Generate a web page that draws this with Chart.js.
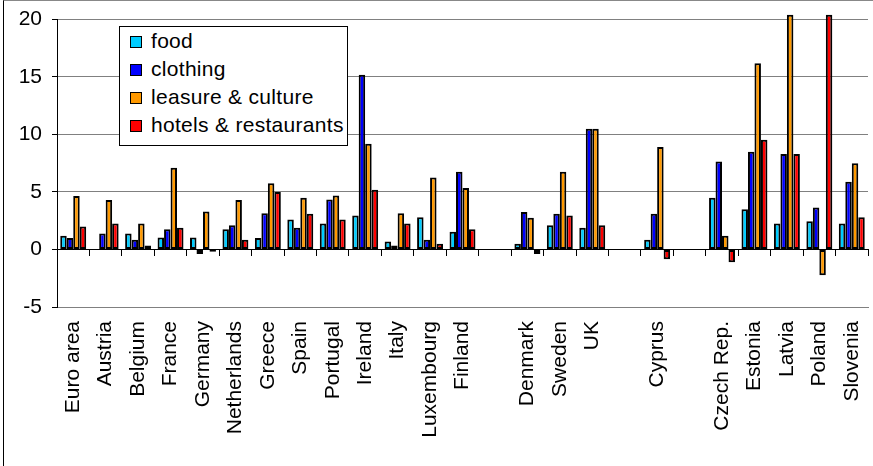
<!DOCTYPE html>
<html>
<head>
<meta charset="utf-8">
<script src="https://cdn.jsdelivr.net/npm/chart.js@4.4.1/dist/chart.umd.min.js"></script>
<style>
  body { margin: 0; background: #fff; font-family: "Liberation Sans", Arial, sans-serif; }
  #wrap { position: relative; width: 873px; height: 466px; overflow: hidden; }
  #frame { position: absolute; left: 3px; top: 0; width: 900px; height: 500px;
           border-left: 1px solid #000; border-top: 1px solid #888; pointer-events: none; }
  #legend { position: absolute; left: 119px; top: 26px; width: 227px; height: 118px;
            background: #fff; border: 1px solid #000; }
  .item { height: 28px; line-height: 28px; font-size: 21px; letter-spacing: 0.3px;
          color: #000; white-space: nowrap; }
  .sw { display: inline-block; width: 10px; height: 10px; border: 1px solid #000;
        margin: 0 9px 0 10px; vertical-align: 0px; }
</style>
</head>
<body>
<div id="wrap">
  <canvas id="chart" width="873" height="466"></canvas>
  <div id="legend"></div>
  <div id="frame"></div>
</div>
<script>
// categorias (as vazias são os espaços entre os grupos de países)
const countries = ["Euro area", "Austria", "Belgium", "France", "Germany", "Netherlands", "Greece",
  "Spain", "Portugal", "Ireland", "Italy", "Luxembourg", "Finland", "", "Denmark", "Sweden", "UK",
  "", "Cyprus", "", "Czech Rep.", "Estonia", "Latvia", "Poland", "Slovenia"];

const food = [1.2, null, 1.4, 1.05, 1.05, 1.75, 1.0, 2.6, 2.25, 2.95, 0.7, 2.8, 1.55, null,
  0.5, 2.1, 1.9, null, 0.85, null, 4.5, 3.5, 2.25, 2.45, 2.25];
const clothing = [1.0, 1.4, 0.85, 1.75, -0.4, 2.1, 3.15, 1.9, 4.35, 15.2, 0.35, 0.85, 6.75, null,
  3.25, 3.1, 10.5, null, 3.1, null, 7.65, 8.5, 8.3, 3.65, 5.9];
const leisure = [4.65, 4.3, 2.25, 7.1, 3.3, 4.3, 5.75, 4.5, 4.7, 9.2, 3.15, 6.25, 5.35, null,
  2.75, 6.75, 10.5, null, 8.9, null, 1.2, 16.2, 20.4, -2.25, 7.5];
const hotels = [2.0, 2.25, 0.35, 1.9, -0.2, 0.85, 5.0, 3.1, 2.6, 5.2, 2.25, 0.5, 1.75, null,
  -0.4, 2.95, 2.1, null, -0.85, null, -1.1, 9.55, 8.3, 20.4, 2.8];

const yTicks = [-5, 0, 5, 10, 15, 20];

const seriesNames = ["food", "clothing", "leasure & culture", "hotels & restaurants"];
const seriesColors = ["#00CCFF", "#0000FF", "#FF9900", "#FF0000"];
const seriesData = [food, clothing, leisure, hotels];

const FONT = "'Liberation Sans', Arial, sans-serif";

document.addEventListener("DOMContentLoaded", function() {
  const ctx = document.getElementById('chart').getContext('2d');

  const datasets = seriesData.map((d, i) => ({
    label: seriesNames[i],
    data: d,
    backgroundColor: seriesColors[i],
    borderColor: '#000',
    borderWidth: 2,
    borderSkipped: false,
    categoryPercentage: 0.8,
    barPercentage: 1.0,
    clip: false
  }));

  new Chart(ctx, {
    type: 'bar',
    data: { labels: countries, datasets: datasets },
    options: {
      responsive: false,
      animation: false,
      layout: { padding: { left: 3, right: 5, top: 19, bottom: 0 } },
      plugins: { legend: { display: false }, tooltip: { enabled: false } },
      scales: {
        x: {
          type: 'category',
          offset: true,
          // tickLength só para afastar os rótulos do eixo
          grid: { display: true, drawOnChartArea: false, drawTicks: true, tickLength: 14,
                  tickColor: 'rgba(0,0,0,0)', offset: true },
          border: { display: true, color: '#808080', width: 1 },
          ticks: {
            autoSkip: false, minRotation: 90, maxRotation: 90, padding: 0,
            color: '#000', font: { family: FONT, size: 21, lineHeight: 1.0 }
          },
          afterFit: s => { s.height = 159; }
        },
        x2: {
          type: 'category',
          labels: countries,
          position: { y: 0 },
          offset: true,
          grid: { display: true, drawOnChartArea: false, drawTicks: true, tickLength: 6, offset: true, color: '#000' },
          border: { display: true, color: '#000', width: 1 },
          ticks: { display: false }
        },
        y: {
          min: yTicks[0],
          max: yTicks[yTicks.length - 1],
          afterBuildTicks: s => { s.ticks = yTicks.map(v => ({ value: v })); },
          grid: { color: '#808080', tickColor: '#000', tickLength: 5 },
          border: { display: true, color: '#000', width: 1 },
          ticks: { padding: 10, color: '#000', font: { family: FONT, size: 21, lineHeight: 0.9 } },
          afterFit: s => { s.width = 54; }
        }
      }
    }
  });

  // legenda em HTML
  const legend = document.getElementById('legend');
  seriesNames.forEach((name, i) => {
    const row = document.createElement('div');
    row.className = 'item';
    row.innerHTML = '<span class="sw" style="background:' + seriesColors[i] + '"></span>' + name;
    legend.appendChild(row);
  });
});
</script>
</body>
</html>
